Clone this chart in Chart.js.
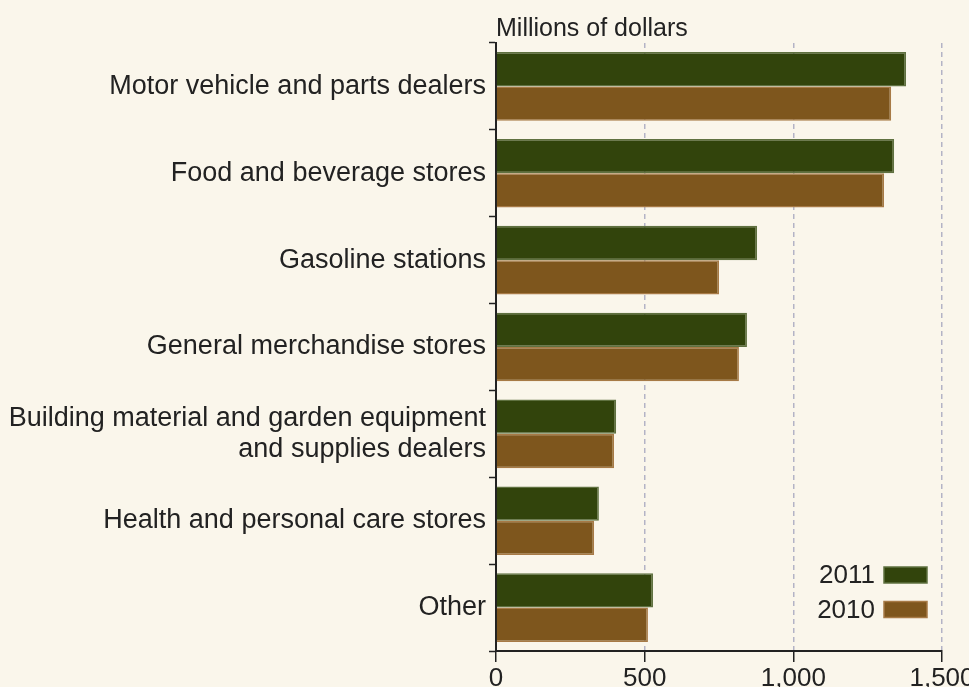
<!DOCTYPE html>
<html>
<head>
<meta charset="utf-8">
<script src="https://cdn.jsdelivr.net/npm/chart.js@4.4.1/dist/chart.umd.min.js"></script>
<style>
  html, body { margin: 0; padding: 0; background: #FAF6EB; }
  #wrap { width: 969px; height: 687px; position: relative; }
</style>
</head>
<body>
<div id="wrap"><canvas id="retailChart"></canvas></div>
<script>
const categories = [
    'Motor vehicle and parts dealers',
    'Food and beverage stores',
    'Gasoline stations',
    'General merchandise stores',
    ['Building material and garden equipment', 'and supplies dealers'],
    'Health and personal care stores',
    'Other'
];
const seriesNames = ['2011', '2010'];
const values2011 = [1379, 1339, 878, 844, 404, 346, 528];
const values2010 = [1329, 1305, 750, 817, 397, 330, 511];
const xTicks = [0, 500, 1000, 1500];
const unitLabel = 'Millions of dollars';

const textColor = '#222222';
const fontFamily = '"Liberation Sans", Arial, Helvetica, sans-serif';

// title above the plot and legend in its bottom right corner
const extras = {
    id: 'extras',
    afterDraw(chart) {
        const ctx = chart.ctx;
        const area = chart.chartArea;
        ctx.save();
        ctx.fillStyle = textColor;
        ctx.font = '25px ' + fontFamily;
        ctx.textAlign = 'left';
        ctx.textBaseline = 'alphabetic';
        ctx.fillText(unitLabel, area.left, 36);

        ctx.font = '26px ' + fontFamily;
        ctx.textAlign = 'right';
        ctx.textBaseline = 'middle';
        chart.data.datasets.forEach(function(ds, i) {
            const cy = area.bottom - 76 + i * 34.5;
            const bx = area.right - 58;
            ctx.fillStyle = ds.backgroundColor;
            ctx.fillRect(bx, cy - 8, 43, 16);
            ctx.strokeStyle = ds.borderColor;
            ctx.lineWidth = 1.5;
            ctx.strokeRect(bx, cy - 8, 43, 16);
            ctx.fillStyle = textColor;
            ctx.fillText(ds.label, bx - 9, cy + 1);
        });
        ctx.restore();
    }
};

document.addEventListener('DOMContentLoaded', function() {
    const ctx = document.getElementById('retailChart').getContext('2d');

    new Chart(ctx, {
        type: 'bar',
        data: {
            labels: categories,
            datasets: [{
                label: seriesNames[0],
                data: values2011,
                backgroundColor: '#32440C',
                borderColor: '#5F7140',
                borderWidth: 1.5
            }, {
                label: seriesNames[1],
                data: values2010,
                backgroundColor: '#7E561D',
                borderColor: '#A77A46',
                borderWidth: 1.5
            }]
        },
        options: {
            indexAxis: 'y',
            responsive: true,
            maintainAspectRatio: false,
            animation: false,
            layout: { padding: { top: 43, left: 0, right: 0, bottom: 0 } },
            datasets: {
                bar: { categoryPercentage: 0.79, barPercentage: 1.0 }
            },
            scales: {
                x: {
                    type: 'linear',
                    min: 0,
                    max: 1500,
                    afterBuildTicks: function(scale) {
                        scale.ticks = xTicks.map(function(v) { return { value: v }; });
                    },
                    afterFit: function(scale) {
                        scale.height = 36;
                        scale.paddingRight = 27;
                    },
                    border: { display: true, color: textColor, width: 2, dash: [5, 4] },
                    grid: {
                        color: function(c) { return c.tick && c.tick.value === 0 ? 'rgba(0,0,0,0)' : '#B3B3C6'; },
                        lineWidth: 1.5,
                        tickColor: textColor,
                        tickLength: 11,
                        tickWidth: 1.5
                    },
                    ticks: {
                        color: textColor,
                        padding: 1,
                        font: { size: 26, family: fontFamily },
                        maxRotation: 0,
                        callback: function(v) { return Number(v).toLocaleString('en-US'); }
                    }
                },
                y: {
                    afterFit: function(scale) { scale.width = 496; },
                    border: { display: true, color: textColor, width: 2 },
                    grid: {
                        offset: true,
                        drawOnChartArea: false,
                        tickColor: textColor,
                        tickLength: 7,
                        tickWidth: 1.5
                    },
                    ticks: {
                        color: textColor,
                        padding: 3,
                        font: { size: 27, family: fontFamily, lineHeight: 1.17 }
                    }
                }
            },
            plugins: {
                legend: { display: false },
                tooltip: { enabled: false }
            }
        },
        plugins: [extras]
    });
});
</script>
</body>
</html>
